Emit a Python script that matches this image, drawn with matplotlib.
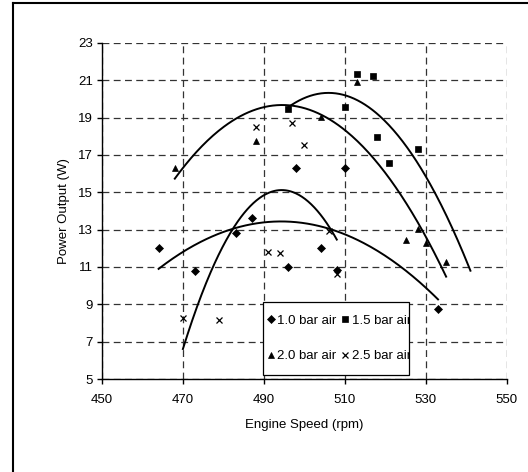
import numpy as np
import matplotlib
matplotlib.use("Agg")
import matplotlib.pyplot as plt
from matplotlib.lines import Line2D
from matplotlib.patches import Rectangle
from matplotlib.transforms import Bbox, TransformedBbox

plt.rcParams['font.family'] = ['Liberation Sans', 'DejaVu Sans']
plt.rcParams['font.size'] = 9.5

# данные
speed_10 = [464, 473, 483, 487, 496, 498, 504, 508, 510, 533]
power_10 = [12.0, 10.8, 12.8, 13.6, 11.0, 16.3, 12.0, 10.85, 16.3, 8.75]

speed_15 = [496, 510, 513, 517, 518, 521, 528]
power_15 = [19.45, 19.55, 21.35, 21.25, 17.95, 16.55, 17.3]

speed_20 = [468, 488, 504, 513, 525, 528, 530, 535]
power_20 = [16.3, 17.75, 19.05, 20.9, 12.45, 13.05, 12.3, 11.25]

speed_25 = [470, 479, 488, 491, 494, 497, 500, 506, 508]
power_25 = [8.25, 8.15, 18.5, 11.8, 11.75, 18.7, 17.55, 12.95, 10.65]

labels = ['1.0 bar air', '1.5 bar air', '2.0 bar air', '2.5 bar air']
x_ticks = [450, 470, 490, 510, 530, 550]
y_ticks = [5, 7, 9, 11, 13, 15, 17, 19, 21, 23]

# прогноз линии тренда вперёд (как в Excel), об/мин
forecast = [0, 13, 0, 0]

fig = plt.figure(figsize=(5.28, 4.72), dpi=100)
ax = fig.add_axes([0.193, 0.197, 0.767, 0.712])

series = [(speed_10, power_10, 'D', 4.4),
          (speed_15, power_15, 's', 4.2),
          (speed_20, power_20, '^', 5.0),
          (speed_25, power_25, 'x', 4.5)]

handles = []
for (sx, sy, m, ms), lab, fc in zip(series, labels, forecast):
    h, = ax.plot(sx, sy, linestyle='none', marker=m, markersize=ms,
                 color='black', markeredgewidth=0.9 if m == 'x' else 0.5,
                 label=lab, zorder=3)
    handles.append(h)
    # полиномиальная линия тренда 2-го порядка
    coef = np.polyfit(sx, sy, 2)
    xs = np.linspace(min(sx), max(sx) + fc, 200)
    ax.plot(xs, np.polyval(coef, xs), color='black', linewidth=1.4, zorder=2)

ax.set_xlim(450, 550)
ax.set_ylim(5, 23)
ax.set_xticks(x_ticks)
ax.set_yticks(y_ticks)
ax.grid(True, color='#333333', linestyle=(0, (5.5, 3.5)), linewidth=0.9)
ax.set_axisbelow(True)
ax.spines['top'].set_visible(False)
ax.spines['right'].set_visible(False)
ax.spines['left'].set_linewidth(1.0)
ax.spines['bottom'].set_linewidth(1.0)
ax.tick_params(direction='out', length=3.5, width=1.0, pad=3, labelsize=9.5)
ax.tick_params(axis='x', pad=7)

ax.set_xlabel('Engine Speed (rpm)', labelpad=9.5)
ax.set_ylabel('Power Output (W)', labelpad=5.5)

# рамка легенды
box = (0.398, 0.011, 0.360, 0.217)
ax.add_patch(Rectangle(box[:2], box[2], box[3], transform=ax.transAxes,
                       facecolor='white', edgecolor='black', linewidth=0.9,
                       zorder=4))

order = [0, 2, 1, 3]
leg = ax.legend([handles[i] for i in order], [labels[i] for i in order],
                ncol=2, loc='center left', bbox_to_anchor=(0.409, 0.1206),
                frameon=False, borderpad=0, borderaxespad=0,
                handlelength=0.5, handletextpad=0.25, columnspacing=0.4,
                labelspacing=1.75, fontsize=9.5)
leg.set_zorder(5)
clip = TransformedBbox(Bbox.from_bounds(*box), ax.transAxes)
for t in leg.get_texts():
    t.set_clip_on(True)
    t.set_clip_box(clip)

# внешняя рамка области диаграммы
fig.add_artist(Line2D([0.0246, 0.0246], [0.0, 0.9936], color='black', linewidth=1.5))
fig.add_artist(Line2D([0.0246, 1.0], [0.9936, 0.9936], color='black', linewidth=1.5))

fig.savefig('out.png', dpi=100)
